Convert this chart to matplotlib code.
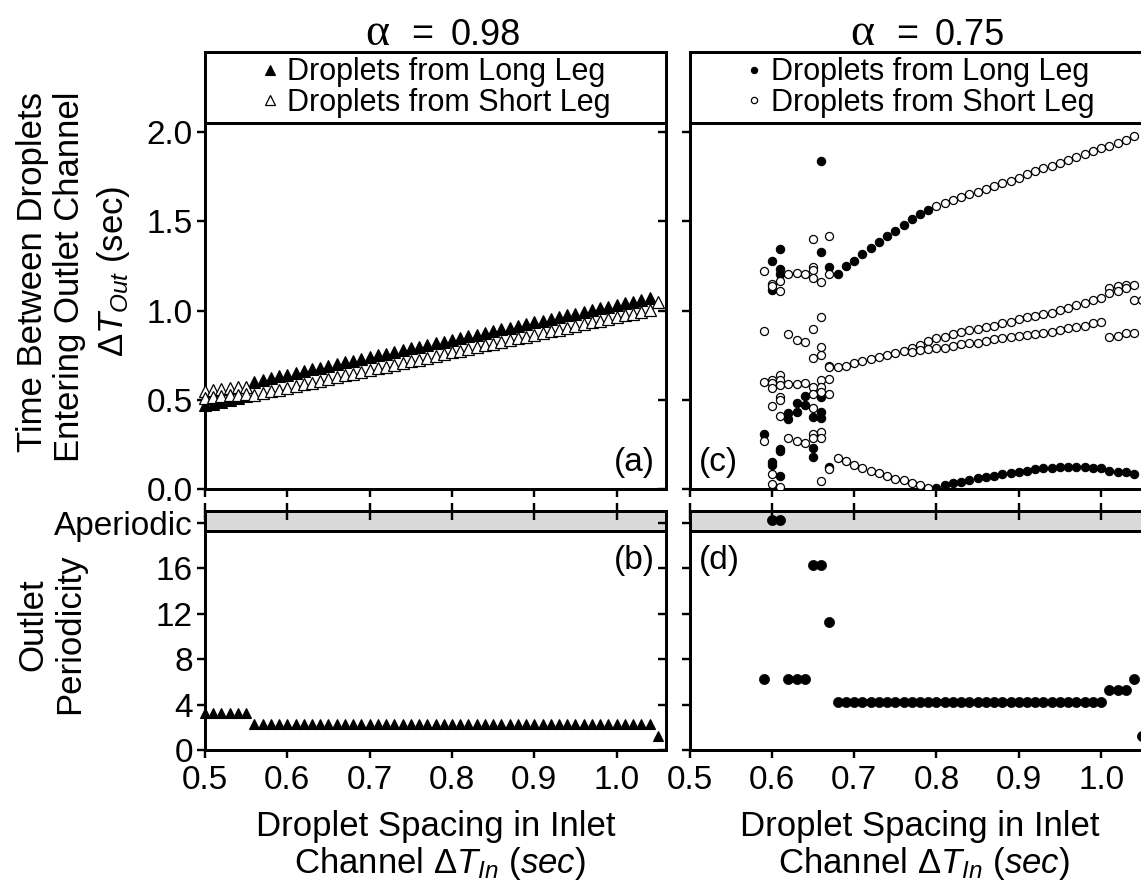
import matplotlib
matplotlib.use("Agg")
import matplotlib.pyplot as plt
import matplotlib.transforms as mtransforms
from matplotlib.patches import Rectangle
from matplotlib.lines import Line2D

plt.rcParams.update({
    "font.family": ["Liberation Sans", "DejaVu Sans"],
    "mathtext.fontset": "custom",
    "mathtext.rm": "Liberation Sans",
    "mathtext.it": "Liberation Sans:italic",
    "mathtext.bf": "Liberation Sans:bold",
})

# ---------------- data ----------------
alpha_left = "0.98"
alpha_right = "0.75"
legend_labels = ["Droplets from Long Leg", "Droplets from Short Leg"]
aperiodic_level = 20
aperiodic_label = "Aperiodic"

# panel (a): alpha = 0.98
a_long_x = [0.50, 0.51, 0.52, 0.53, 0.54, 0.55,
            0.56, 0.57, 0.58, 0.59, 0.60, 0.61, 0.62, 0.63, 0.64, 0.65,
            0.66, 0.67, 0.68, 0.69, 0.70, 0.71, 0.72, 0.73, 0.74, 0.75,
            0.76, 0.77, 0.78, 0.79, 0.80, 0.81, 0.82, 0.83, 0.84, 0.85,
            0.86, 0.87, 0.88, 0.89, 0.90, 0.91, 0.92, 0.93, 0.94, 0.95,
            0.96, 0.97, 0.98, 0.99, 1.00, 1.01, 1.02, 1.03, 1.04]
a_long_y = [0.47, 0.48, 0.49, 0.50, 0.51, 0.52,
            0.603, 0.613, 0.623, 0.632, 0.642, 0.652, 0.662, 0.671, 0.681, 0.691,
            0.701, 0.710, 0.720, 0.730, 0.740, 0.749, 0.759, 0.769, 0.778, 0.788,
            0.798, 0.808, 0.817, 0.827, 0.837, 0.847, 0.856, 0.866, 0.876, 0.886,
            0.895, 0.905, 0.915, 0.925, 0.934, 0.944, 0.954, 0.963, 0.973, 0.983,
            0.993, 1.002, 1.012, 1.022, 1.032, 1.041, 1.051, 1.061, 1.071]
a_short_x = [0.50, 0.51, 0.52, 0.53, 0.54, 0.55,
             0.50, 0.51, 0.52, 0.53, 0.54, 0.55,
             0.56, 0.57, 0.58, 0.59, 0.60, 0.61, 0.62, 0.63, 0.64, 0.65,
             0.66, 0.67, 0.68, 0.69, 0.70, 0.71, 0.72, 0.73, 0.74, 0.75,
             0.76, 0.77, 0.78, 0.79, 0.80, 0.81, 0.82, 0.83, 0.84, 0.85,
             0.86, 0.87, 0.88, 0.89, 0.90, 0.91, 0.92, 0.93, 0.94, 0.95,
             0.96, 0.97, 0.98, 0.99, 1.00, 1.01, 1.02, 1.03, 1.04, 1.05]
a_short_y = [0.55, 0.555, 0.56, 0.565, 0.57, 0.575,
             0.51, 0.515, 0.52, 0.525, 0.53, 0.535,
             0.528, 0.538, 0.548, 0.558, 0.568, 0.578, 0.587, 0.597, 0.607, 0.617,
             0.627, 0.637, 0.647, 0.657, 0.667, 0.677, 0.686, 0.696, 0.706, 0.716,
             0.726, 0.736, 0.746, 0.756, 0.766, 0.776, 0.785, 0.795, 0.805, 0.815,
             0.825, 0.835, 0.845, 0.855, 0.865, 0.875, 0.884, 0.894, 0.904, 0.914,
             0.924, 0.934, 0.944, 0.954, 0.964, 0.974, 0.983, 0.993, 1.003, 1.05]

# panel (b): periodicity, alpha = 0.98
b_x = [0.50, 0.51, 0.52, 0.53, 0.54, 0.55,
       0.56, 0.57, 0.58, 0.59, 0.60, 0.61, 0.62, 0.63, 0.64, 0.65,
       0.66, 0.67, 0.68, 0.69, 0.70, 0.71, 0.72, 0.73, 0.74, 0.75,
       0.76, 0.77, 0.78, 0.79, 0.80, 0.81, 0.82, 0.83, 0.84, 0.85,
       0.86, 0.87, 0.88, 0.89, 0.90, 0.91, 0.92, 0.93, 0.94, 0.95,
       0.96, 0.97, 0.98, 0.99, 1.00, 1.01, 1.02, 1.03, 1.04, 1.05]
b_period = [3, 3, 3, 3, 3, 3,
            2, 2, 2, 2, 2, 2, 2, 2, 2, 2,
            2, 2, 2, 2, 2, 2, 2, 2, 2, 2,
            2, 2, 2, 2, 2, 2, 2, 2, 2, 2,
            2, 2, 2, 2, 2, 2, 2, 2, 2, 2,
            2, 2, 2, 2, 2, 2, 2, 2, 2, 1]

# panel (c): alpha = 0.75
c_long_x = [0.59,
            0.60, 0.60, 0.60, 0.60,
            0.61, 0.61, 0.61, 0.61, 0.61, 0.61,
            0.62, 0.62, 0.63, 0.63, 0.64, 0.64,
            0.65, 0.65, 0.65,
            0.66, 0.66, 0.66, 0.66, 0.66,
            0.67, 0.67, 0.68,
            0.69, 0.70, 0.71, 0.72, 0.73, 0.74, 0.75, 0.76, 0.77, 0.78, 0.79,
            0.80, 0.81, 0.82, 0.83, 0.84, 0.85, 0.86, 0.87, 0.88, 0.89,
            0.90, 0.91, 0.92, 0.93, 0.94, 0.95, 0.96, 0.97, 0.98, 0.99,
            1.00, 1.01, 1.02, 1.03, 1.04]
c_long_y = [0.308,
            1.275, 1.116, 0.155, 0.137,
            1.346, 1.234, 1.206, 0.226, 0.215, 0.075,
            0.426, 0.392, 0.482, 0.435, 0.523, 0.472,
            0.407, 0.230, 0.179,
            1.838, 1.327, 0.519, 0.435, 0.401,
            1.243, 0.127, 1.206,
            1.247, 1.278, 1.316, 1.349, 1.383, 1.415, 1.448, 1.478, 1.514, 1.540, 1.564,
            0.009, 0.024, 0.034, 0.043, 0.052, 0.062, 0.067, 0.075, 0.086, 0.093,
            0.099, 0.105, 0.112, 0.118, 0.121, 0.123, 0.123, 0.123, 0.123, 0.121,
            0.118, 0.103, 0.099, 0.095, 0.086]
c_short_x = [0.59, 0.59, 0.59, 0.59,
             0.60, 0.60, 0.60, 0.60, 0.60, 0.60, 0.60, 0.60,
             0.61, 0.61, 0.61, 0.61, 0.61, 0.61, 0.61, 0.61, 0.61,
             0.62, 0.62, 0.62, 0.62,
             0.63, 0.63, 0.63, 0.63,
             0.64, 0.64, 0.64, 0.64,
             0.65, 0.65, 0.65, 0.65, 0.65, 0.65, 0.65, 0.65, 0.65, 0.65, 0.65,
             0.66, 0.66, 0.66, 0.66, 0.66, 0.66, 0.66, 0.66, 0.66, 0.66,
             0.67, 0.67, 0.67, 0.67, 0.67, 0.67, 0.67,
             # lower branch 0.68-0.79
             0.68, 0.69, 0.70, 0.71, 0.72, 0.73, 0.74, 0.75, 0.76, 0.77, 0.78, 0.79,
             # upper-middle branch 0.68-1.00
             0.68, 0.69, 0.70, 0.71, 0.72, 0.73, 0.74, 0.75, 0.76, 0.77, 0.78,
             0.79, 0.80, 0.81, 0.82, 0.83, 0.84, 0.85, 0.86, 0.87, 0.88, 0.89,
             0.90, 0.91, 0.92, 0.93, 0.94, 0.95, 0.96, 0.97, 0.98, 0.99, 1.00,
             # lower-middle branch 0.77-1.00
             0.77, 0.78, 0.79, 0.80, 0.81, 0.82, 0.83, 0.84, 0.85, 0.86, 0.87, 0.88,
             0.89, 0.90, 0.91, 0.92, 0.93, 0.94, 0.95, 0.96, 0.97, 0.98, 0.99, 1.00,
             # top branch 0.80-1.04
             0.80, 0.81, 0.82, 0.83, 0.84, 0.85, 0.86, 0.87, 0.88, 0.89, 0.90, 0.91, 0.92,
             0.93, 0.94, 0.95, 0.96, 0.97, 0.98, 0.99, 1.00, 1.01, 1.02, 1.03, 1.04,
             # period-5/6 points 1.01-1.05
             1.01, 1.01, 1.02, 1.02, 1.03, 1.03, 1.04, 1.04,
             1.01, 1.02, 1.03, 1.04, 1.05]
c_short_y = [1.222, 0.886, 0.603, 0.271,
             1.150, 1.135, 0.610, 0.595, 0.566, 0.467, 0.086, 0.028,
             1.163, 1.112, 0.640, 0.612, 0.584, 0.519, 0.500, 0.412, 0.015,
             1.206, 0.868, 0.590, 0.289,
             1.209, 0.836, 0.590, 0.271,
             1.206, 0.827, 0.593, 0.261,
             1.400, 1.243, 1.228, 1.185, 0.896, 0.733, 0.575, 0.534, 0.454, 0.308, 0.286,
             1.159, 0.967, 0.795, 0.752, 0.612, 0.575, 0.547, 0.319, 0.289, 0.047,
             1.415, 1.204, 0.691, 0.683, 0.618, 0.534, 0.112,
             0.174, 0.161, 0.136, 0.118, 0.103, 0.090, 0.075, 0.056, 0.052, 0.037, 0.024, 0.009,
             0.687, 0.692, 0.706, 0.720, 0.730, 0.739, 0.752, 0.765, 0.773, 0.790, 0.808,
             0.830, 0.849, 0.855, 0.870, 0.881, 0.892, 0.896, 0.907, 0.914, 0.929, 0.939,
             0.952, 0.963, 0.970, 0.982, 0.989, 1.004, 1.013, 1.032, 1.045, 1.060, 1.069,
             0.767, 0.780, 0.784, 0.789, 0.793, 0.802, 0.812, 0.821, 0.821, 0.832, 0.840, 0.845,
             0.851, 0.859, 0.864, 0.868, 0.873, 0.883, 0.892, 0.901, 0.911, 0.916, 0.929, 0.935,
             1.583, 1.600, 1.618, 1.634, 1.650, 1.666, 1.680, 1.698, 1.716, 1.728, 1.744, 1.762, 1.779,
             1.796, 1.810, 1.828, 1.844, 1.862, 1.878, 1.891, 1.908, 1.922, 1.940, 1.955, 1.978,
             1.125, 1.101, 1.135, 1.107, 1.144, 1.125, 1.144, 1.060,
             0.851, 0.860, 0.873, 0.873, 1.060]

# panel (d): periodicity, alpha = 0.75
d_x = [0.59, 0.60, 0.61, 0.62, 0.63, 0.64, 0.65, 0.66, 0.67,
       0.68, 0.69, 0.70, 0.71, 0.72, 0.73, 0.74, 0.75, 0.76, 0.77, 0.78,
       0.79, 0.80, 0.81, 0.82, 0.83, 0.84, 0.85, 0.86, 0.87, 0.88,
       0.89, 0.90, 0.91, 0.92, 0.93, 0.94, 0.95, 0.96, 0.97, 0.98,
       0.99, 1.00, 1.01, 1.02, 1.03, 1.04, 1.05]
d_period = [6, 20, 20, 6, 6, 6, 16, 16, 11,
            4, 4, 4, 4, 4, 4, 4, 4, 4, 4, 4,
            4, 4, 4, 4, 4, 4, 4, 4, 4, 4,
            4, 4, 4, 4, 4, 4, 4, 4, 4, 4,
            4, 4, 5, 5, 5, 6, 1]

x_ticks = [0.5, 0.6, 0.7, 0.8, 0.9, 1.0]
x_ticklabels = ["0.5", "0.6", "0.7", "0.8", "0.9", "1.0"]
top_yticks = [0.0, 0.5, 1.0, 1.5, 2.0]
top_yticklabels = ["0.0", "0.5", "1.0", "1.5", "2.0"]
bot_yticks = [0, 4, 8, 12, 16, 20]
bot_yticklabels = ["0", "4", "8", "12", "16", aperiodic_label]

# ---------------- layout ----------------
W, H, DPI = 1141, 886, 100
fig = plt.figure(figsize=(W / DPI, H / DPI), dpi=DPI)
PX = 72.0 / DPI  # points per pixel

LW = 3.0 * PX
TICK_FS = 24
LAB_FS = 25


def add_ax(l, t, r, b):
    return fig.add_axes([l / W, 1 - b / H, (r - l) / W, (b - t) / H])


ax_a = add_ax(205, 123, 666, 489.3)
ax_c = add_ax(689.5, 123, 1150.5, 489.3)
ax_b = add_ax(205, 510.7, 666, 750)
ax_d = add_ax(689.5, 510.7, 1150.5, 750)

XLIM = (0.5, 1.06)
TOP_YLIM = (0.0, 2.05)
BOT_YLIM = (0.0, 21.05)
BAND_LOW = 19.27


def style(ax, yticks, yticklabels, ylim, show_ylabels, show_xlabels, lower):
    ax.set_xlim(*XLIM)
    ax.set_ylim(*ylim)
    ax.set_xticks(x_ticks)
    ax.set_xticklabels(x_ticklabels)
    ax.set_yticks(yticks)
    ax.set_yticklabels(yticklabels)
    for s in ax.spines.values():
        s.set_linewidth(LW)
    ax.tick_params(axis="both", direction="out", length=8 * PX, width=LW * 0.8,
                   labelsize=TICK_FS, pad=3, top=False, right=False,
                   labelleft=show_ylabels, labelbottom=show_xlabels)
    ax.tick_params(axis="x", pad=5)
    sy = ax.secondary_yaxis("right")
    sy.set_yticks(yticks)
    sy.tick_params(direction="in", length=8 * PX, width=LW * 0.8, labelright=False)
    sy.spines["right"].set_linewidth(LW)
    if lower:
        sx = ax.secondary_xaxis("top")
        sx.set_xticks(x_ticks)
        sx.tick_params(direction="inout", length=17 * PX, width=LW * 0.8, labeltop=False)
        sx.spines["top"].set_linewidth(LW)


style(ax_a, top_yticks, top_yticklabels, TOP_YLIM, True, False, False)
style(ax_c, top_yticks, top_yticklabels, TOP_YLIM, False, False, False)
style(ax_b, bot_yticks, bot_yticklabels, BOT_YLIM, True, True, True)
style(ax_d, bot_yticks, bot_yticklabels, BOT_YLIM, False, True, True)

for ax in (ax_b, ax_d):
    ax.axhspan(BAND_LOW, BOT_YLIM[1], color="#d9d9d9", zorder=0, lw=0)
    ax.axhline(BAND_LOW, color="black", lw=LW, zorder=1)

# ---------------- data marks ----------------
ax_a.plot(a_long_x, a_long_y, ls="none", marker="^", ms=8, mfc="black",
          mec="black", mew=0.8, clip_on=False, zorder=3)
ax_a.plot(a_short_x, a_short_y, ls="none", marker="^", ms=8, mfc="white",
          mec="black", mew=0.9, clip_on=False, zorder=4)

lift = mtransforms.ScaledTranslation(0, 3 * PX / 72.0, fig.dpi_scale_trans)
ax_b.plot(b_x, b_period, ls="none", marker="^", ms=7.5, mfc="black", mec="black",
          mew=0.8, clip_on=False, zorder=3, transform=ax_b.transData + lift)

ax_c.plot(c_long_x, c_long_y, ls="none", marker="o", ms=6.0, mfc="black",
          mec="black", mew=0.8, zorder=3)
ax_c.plot(c_short_x, c_short_y, ls="none", marker="o", ms=5.8, mfc="white",
          mec="black", mew=0.9, zorder=4)

ax_d.plot(d_x, d_period, ls="none", marker="o", ms=7.3, mfc="black", mec="black",
          mew=0.5, zorder=3, transform=ax_d.transData + lift)

# ---------------- legends ----------------
box_h = (123 - 52) / (489.3 - 123)
for ax, mk, ms in ((ax_a, "^", 7), (ax_c, "o", 4.5)):
    ax.add_patch(Rectangle((0, 1), 1, box_h, transform=ax.transAxes, fill=False,
                           lw=LW, clip_on=False, zorder=5))
    h1 = Line2D([], [], ls="none", marker=mk, ms=ms, mfc="black", mec="black", mew=0.8)
    h2 = Line2D([], [], ls="none", marker=mk, ms=ms, mfc="white", mec="black", mew=0.9)
    ax.legend([h1, h2], legend_labels, loc="center",
              bbox_to_anchor=(0.5, 1 + box_h / 2), frameon=False, fontsize=22,
              handlelength=0.6, handletextpad=0.25, labelspacing=0.02,
              borderpad=0, borderaxespad=0)

# ---------------- titles ----------------
for cx, val in ((435.5, alpha_left), (920.0, alpha_right)):
    fig.text((cx - 58) / W, 1 - 45 / H, "\u03b1", family="Liberation Serif",
             fontsize=33, ha="center", va="baseline")
    fig.text((cx - 13) / W, 1 - 45 / H, "=", fontsize=27, ha="center", va="baseline")
    fig.text((cx + 50) / W, 1 - 45 / H, val, fontsize=26, ha="center", va="baseline")

# ---------------- panel labels ----------------
ax_a.text(655 / W, 1 - 463 / H, "(a)", transform=fig.transFigure, fontsize=24,
          ha="right", va="center")
ax_c.text(699 / W, 1 - 463 / H, "(c)", transform=fig.transFigure, fontsize=24,
          ha="left", va="center")
ax_b.text(655 / W, 1 - 560 / H, "(b)", transform=fig.transFigure, fontsize=24,
          ha="right", va="center")
ax_d.text(699 / W, 1 - 560 / H, "(d)", transform=fig.transFigure, fontsize=24,
          ha="left", va="center")

# ---------------- axis labels ----------------
fig.text(33 / W, 1 - 272 / H, "Time Between Droplets", rotation=90, fontsize=LAB_FS,
         ha="center", va="center")
fig.text(70 / W, 1 - 277 / H, "Entering Outlet Channel", rotation=90, fontsize=LAB_FS,
         ha="center", va="center")
fig.text(113 / W, 1 - 271 / H, r"$\Delta T_{Out}$ (sec)", rotation=90, fontsize=LAB_FS,
         ha="center", va="center")
fig.text(33 / W, 1 - 625 / H, "Outlet", rotation=90, fontsize=LAB_FS,
         ha="center", va="center")
fig.text(70 / W, 1 - 634 / H, "Periodicity", rotation=90, fontsize=LAB_FS,
         ha="center", va="center")

for cx in (435.5, 920.0):
    fig.text(cx / W, 1 - 836 / H, "Droplet Spacing in Inlet", fontsize=LAB_FS,
             ha="center", va="baseline")
    fig.text((cx + 4) / W, 1 - 873 / H, r"Channel $\Delta T_{In}$ ($sec$)",
             fontsize=LAB_FS, ha="center", va="baseline")

fig.savefig("out.png", dpi=DPI)
